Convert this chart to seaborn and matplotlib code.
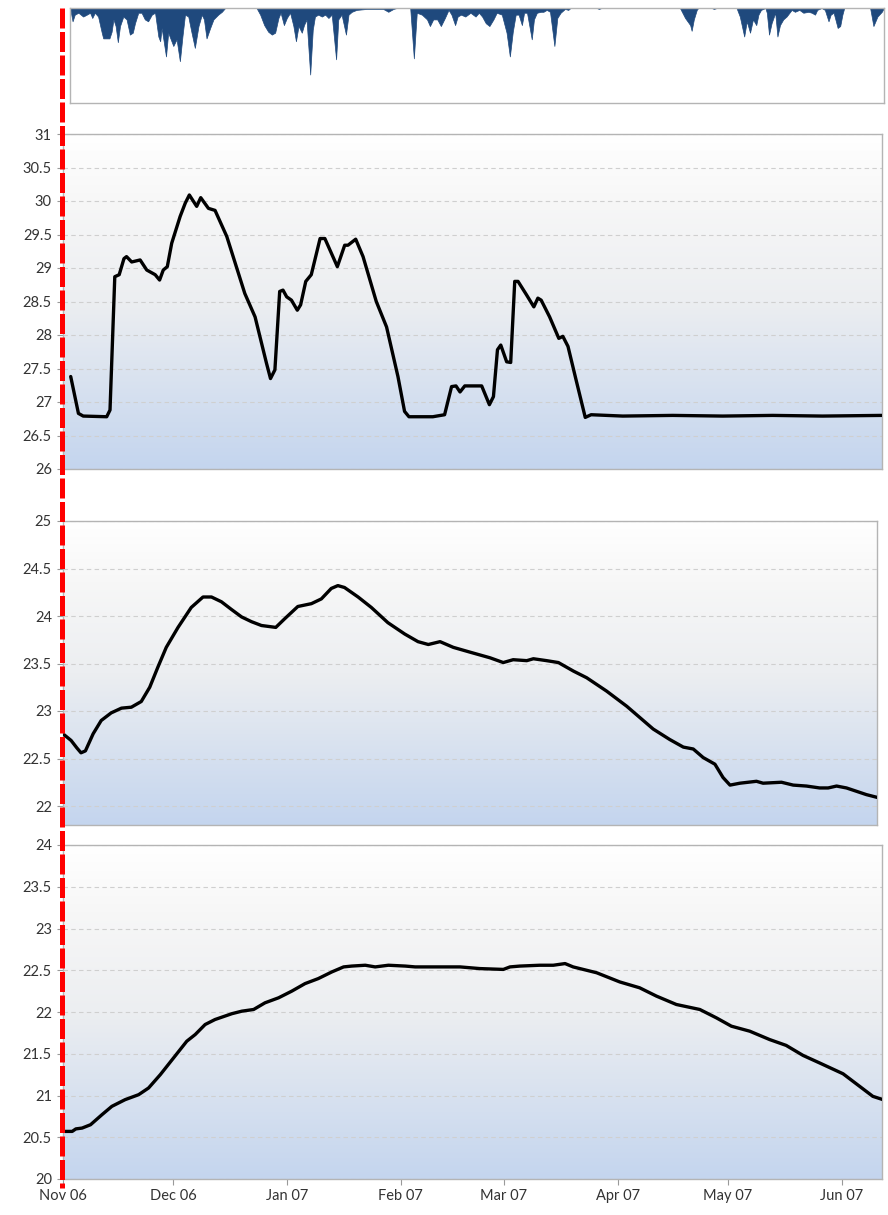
import numpy as np
import pandas as pd
import matplotlib as mpl
import matplotlib.pyplot as plt
import matplotlib.dates as mdates
from matplotlib.lines import Line2D
from matplotlib.ticker import FuncFormatter, MultipleLocator
import seaborn as sns

start = pd.Timestamp("2006-11-01")
end_day = 223

# rainfall (hanging from the top), day offset from 1 Nov 2006
rain_day = [0, 0.7, 1.3, 2.3, 3.6, 4.6, 5.5, 6.1, 6.8, 7.7, 8.7, 9.1, 10.8, 11.4, 11.9, 12.5,
            13.1, 13.7, 14.6, 15.5, 16.4, 17.2, 17.8, 18.7, 19.6, 20.5, 21.4, 22.4, 23.3, 24.2,
            24.7, 25.1, 26.3, 26.9, 27.6, 28.3, 29.2, 30.1, 30.8, 31.5, 32.4, 33.3, 34.2, 35.2,
            36.1, 36.7, 37.4, 38.4, 39.3, 40.6, 41.6, 42.5,
            51.1, 52.1, 53.2, 54.3, 55.3, 56.2, 57.1, 57.7, 58.6, 59.4, 60.3, 61.2, 61.9, 62.6,
            63.5, 64.1, 64.8, 65.8, 66.5, 67.1, 68.0, 69.0, 69.9, 70.8, 71.7, 72.9, 73.5, 74.4,
            75.6, 76.3, 77.2, 78.5, 81.3, 84.0, 85.8, 87.2, 88.6, 89.5,
            93.2, 94.2, 95.0, 96.4, 97.8, 98.6, 99.5, 100.6, 101.6, 102.7, 103.7, 104.5, 105.5,
            106.2, 107.1, 108.3, 109.7, 111.1, 112.0, 112.9, 113.9, 114.9, 116.0, 116.9, 118.3,
            119.6, 120.5, 121.3, 122.1, 122.9, 123.8, 124.4, 125.2, 126.5, 127.1, 127.9, 129.0,
            129.7, 130.6, 131.5, 132.7, 133.5, 134.4, 135.6, 136.5, 137.1,
            144.3, 144.9, 145.6,
            167.1, 168.5, 169.9, 170.3, 170.9, 171.7, 172.1, 175.8, 176.4, 177.2,
            182.6, 183.5, 184.7, 185.4, 186.3, 187.1, 188.0, 188.6, 189.3, 190.5, 190.9, 191.5,
            192.2, 193.2, 193.8, 194.5, 195.4, 196.3, 197.7, 198.6, 199.8, 200.9, 202.3, 203.2,
            204.1, 204.7, 205.9, 206.8, 207.8, 208.4, 209.2, 210.3, 211.0, 211.6, 212.1,
            219.2, 220.1, 221.2, 222.4, 223.0]
rain_mm = [0, 14, 7, 5, 9, 7, 5, 10.5, 5, 9, 26, 32, 32, 25, 12, 19,
           36, 19, 9, 12, 28, 26, 16, 5, 5, 12, 14, 7, 5, 30,
           35, 21, 51, 26, 33, 40, 33, 56, 30, 7, 9, 26, 42, 19,
           7, 12, 32, 21, 12, 7, 4, 0,
           0, 7, 18, 25, 28, 26, 10.5, 5, 18, 10.5, 5, 19, 35, 19,
           26, 18, 12, 70, 23, 9, 7, 9, 7, 10.5, 7, 54, 12, 7,
           28, 7, 4, 2, 1, 1, 1, 4, 1, 0,
           0, 53, 5, 7, 12, 19, 12, 12, 19, 10.5, 2, 7, 18,
           9, 7, 9, 5, 9, 5, 9, 16, 19, 12, 5, 7,
           26, 51, 25, 7, 7, 18, 5, 5, 33, 12, 5, 4,
           4, 2, 4, 40, 10.5, 5, 1, 2, 0,
           0, 1, 0,
           0, 10.5, 18, 24, 12, 2, 0, 0, 1, 0,
           0, 9, 30, 14, 26, 12, 18, 7, 2, 0, 5, 28,
           16, 5, 30, 18, 12, 9, 2, 4, 2, 5, 4, 5,
           7, 2, 0, 2, 14, 7, 5, 21, 19, 7, 0,
           0, 19, 9, 4, 0]

# series 1 (26 - 31)
s1_day = [2.1, 4.2, 5.5, 11.9, 12.8, 14.1, 15.3, 16.6, 17.3, 18.7, 21.0, 22.8, 25.1, 26.3, 27.3,
          28.4, 29.6, 31.9, 33.3, 34.4, 36.4, 37.5, 39.6, 41.4, 44.6, 49.5, 52.3, 55.4, 56.5,
          57.7, 59.0, 59.9, 60.9, 62.2, 63.8, 64.7, 66.1, 67.6, 70.0, 71.3, 74.7, 76.7, 77.6,
          79.7, 81.7, 85.3, 88.1, 91.2, 93.0, 94.2, 100.7, 103.9, 105.8, 107.0, 108.1, 109.4,
          114.0, 116.1, 117.2, 118.3, 119.2, 120.8, 121.9, 123.0, 123.9, 126.2, 128.2, 129.3,
          130.2, 132.5, 135.0, 136.1, 137.5, 139.7, 142.2, 143.8, 152.4, 166.0, 179.6, 193.2,
          206.8, 222.9]
s1_val = [27.38, 26.83, 26.79, 26.78, 26.88, 28.87, 28.90, 29.14, 29.17, 29.09, 29.12, 28.97,
          28.90, 28.82, 28.97, 29.02, 29.37, 29.77, 29.97, 30.09, 29.92, 30.05, 29.89, 29.86,
          29.47, 28.62, 28.27, 27.58, 27.35, 27.48, 28.65, 28.67, 28.57, 28.52, 28.37, 28.45,
          28.80, 28.90, 29.44, 29.44, 29.02, 29.34, 29.34, 29.43, 29.17, 28.50, 28.12, 27.38,
          26.86, 26.78, 26.78, 26.81, 27.23, 27.24, 27.15, 27.24, 27.24, 26.96, 27.08, 27.78,
          27.85, 27.60, 27.59, 28.80, 28.80, 28.60, 28.42, 28.55, 28.52, 28.27, 27.95, 27.98,
          27.83, 27.33, 26.77, 26.81, 26.79, 26.80, 26.79, 26.80, 26.79, 26.80]

# series 2 (21.8 - 25)
s2_day = [0.3, 2.2, 3.8, 4.9, 6.1, 8.2, 10.4, 13.1, 15.9, 18.6, 21.3, 23.6, 25.8, 28.1, 31.3,
          34.9, 38.1, 40.4, 43.1, 45.8, 48.6, 51.3, 54.0, 57.9, 60.3, 63.9, 67.6, 70.3, 73.0,
          74.8, 76.6, 80.3, 83.9, 88.4, 93.0, 96.6, 99.4, 102.6, 106.2, 110.7, 116.2, 119.8,
          122.5, 126.2, 128.0, 131.6, 134.8, 138.9, 142.5, 147.9, 153.4, 157.0, 160.6, 165.1,
          168.8, 171.5, 174.2, 177.4, 179.6, 181.5, 184.2, 188.7, 190.5, 195.5, 198.7, 202.3,
          205.9, 208.2, 210.5, 213.2, 218.6, 221.6]
s2_val = [22.75, 22.69, 22.61, 22.56, 22.58, 22.76, 22.90, 22.98, 23.03, 23.04, 23.10, 23.25,
          23.46, 23.67, 23.88, 24.09, 24.20, 24.20, 24.15, 24.07, 23.99, 23.94, 23.90, 23.88,
          23.97, 24.10, 24.13, 24.18, 24.29, 24.32, 24.30, 24.20, 24.09, 23.93, 23.81, 23.73,
          23.70, 23.73, 23.67, 23.62, 23.56, 23.51, 23.54, 23.53, 23.55, 23.53, 23.51, 23.42,
          23.35, 23.21, 23.05, 22.93, 22.81, 22.70, 22.62, 22.60, 22.51, 22.44, 22.30, 22.22,
          22.24, 22.26, 22.24, 22.25, 22.22, 22.21, 22.19, 22.19, 22.21, 22.19, 22.12, 22.09]

# series 3 (20 - 24)
s3_day = [0.5, 2.5, 3.5, 5.2, 7.5, 10.6, 13.3, 16.9, 20.6, 23.3, 26.5, 30.1, 33.7, 36.0, 38.7,
          41.4, 46.0, 48.7, 51.9, 55.0, 58.7, 62.3, 65.9, 69.5, 73.2, 76.4, 78.6, 82.3, 85.0,
          88.6, 93.2, 95.9, 101.3, 108.1, 113.5, 119.9, 121.7, 124.4, 129.8, 133.5, 136.7,
          138.9, 145.3, 151.6, 157.0, 161.6, 167.0, 173.4, 177.9, 182.0, 187.0, 192.4, 196.9,
          201.5, 206.0, 212.4, 216.9, 220.5, 223.3]
s3_val = [20.57, 20.57, 20.60, 20.61, 20.65, 20.77, 20.87, 20.95, 21.01, 21.09, 21.25, 21.45,
          21.65, 21.73, 21.85, 21.91, 21.98, 22.01, 22.03, 22.11, 22.17, 22.25, 22.34, 22.40,
          22.48, 22.54, 22.55, 22.56, 22.54, 22.56, 22.55, 22.54, 22.54, 22.54, 22.52, 22.51,
          22.54, 22.55, 22.56, 22.56, 22.58, 22.54, 22.47, 22.36, 22.29, 22.19, 22.09, 22.03,
          21.93, 21.83, 21.77, 21.67, 21.60, 21.48, 21.39, 21.26, 21.11, 20.99, 20.95]

month_ticks = ["2006-11-01", "2006-12-01", "2007-01-01", "2007-02-01",
               "2007-03-01", "2007-04-01", "2007-05-01", "2007-06-01"]
marker_day = 0


def to_dates(days):
    return start + pd.to_timedelta(np.array(days), unit="D")


sns.set_theme(style="white")
plt.rcParams["font.family"] = ["Lato", "DejaVu Sans"]

fig = plt.figure(figsize=(8.88, 12.15), dpi=100)

bg = mpl.colors.LinearSegmentedColormap.from_list(
    "bg", [(0, "#c4d5ee"), (0.5, "#eceef1"), (0.8, "#f7f7f7"), (1, "#ffffff")])
border = "#b4b4b4"


def style_panel(ax, lo, hi, end):
    g = np.linspace(0, 1, 256).reshape(-1, 1)
    ax.imshow(g, cmap=bg, aspect="auto", extent=(0, 1, 0, 1), origin="lower",
              transform=ax.transAxes, zorder=0)
    ax.set_xlim(start, start + pd.Timedelta(days=end))
    ax.set_ylim(lo, hi)
    ax.yaxis.set_major_locator(MultipleLocator(0.5))
    ax.yaxis.set_major_formatter(FuncFormatter(lambda v, p: f"{v:g}"))
    ax.grid(axis="y", color="#cfcfcf", linestyle=(0, (4, 3)), linewidth=0.8, zorder=1)
    for s in ax.spines.values():
        s.set_color(border)
        s.set_linewidth(1.0)
    ax.tick_params(axis="y", left=True, length=4, width=0.8, color="#999999",
                   labelsize=10.5, labelcolor="#333333", pad=4)
    ax.set_xlabel("")
    ax.set_ylabel("")


# rain panel
ax0 = fig.add_axes([70 / 888, 1 - 103 / 1215, 814 / 888, 95 / 1215])
rd = to_dates(rain_day)
ax0.fill_between(rd, 0, rain_mm, color="#1f497d", linewidth=0.5, edgecolor="#1f497d")
ax0.set_xlim(start, start + pd.Timedelta(days=end_day))
ax0.set_ylim(100, 0)
ax0.set_xticks([])
ax0.set_yticks([])
for s in ax0.spines.values():
    s.set_color(border)
    s.set_linewidth(1.0)

ax1 = fig.add_axes([63 / 888, 1 - 469 / 1215, 819 / 888, 335 / 1215])
ax2 = fig.add_axes([63 / 888, 1 - 825 / 1215, 814 / 888, 304 / 1215])
ax3 = fig.add_axes([63 / 888, 1 - 1179 / 1215, 819 / 888, 334 / 1215])

panels = [
    (ax1, s1_day, s1_val, 26, 31, end_day),
    (ax2, s2_day, s2_val, 21.8, 25, 221.5),
    (ax3, s3_day, s3_val, 20, 24, end_day),
]
for ax, d, v, lo, hi, end in panels:
    sns.lineplot(x=to_dates(d), y=v, ax=ax, color="black", linewidth=2.4,
                 estimator=None, zorder=3)
    style_panel(ax, lo, hi, end)

for ax in (ax1, ax2):
    ax.set_xticks([])

ax3.set_xticks(pd.to_datetime(month_ticks))
ax3.xaxis.set_major_formatter(mdates.DateFormatter("%b %y"))
ax3.tick_params(axis="x", bottom=True, length=4, width=0.8, color="#999999",
                labelsize=10.5, labelcolor="#333333", pad=3)

# red dashed marker through all panels
fig.canvas.draw()
xpix = ax3.transData.transform((mdates.date2num(start + pd.Timedelta(days=marker_day)), 20))[0]
xf = xpix / fig.bbox.width - 1 / 888
fig.add_artist(Line2D([xf, xf], [1 - 8 / 1215, 1 - 1188 / 1215], transform=fig.transFigure,
                      color="#ff0000", linewidth=3.6, linestyle=(0, (4, 0.7)), zorder=10))

fig.savefig("out.png", dpi=100)
